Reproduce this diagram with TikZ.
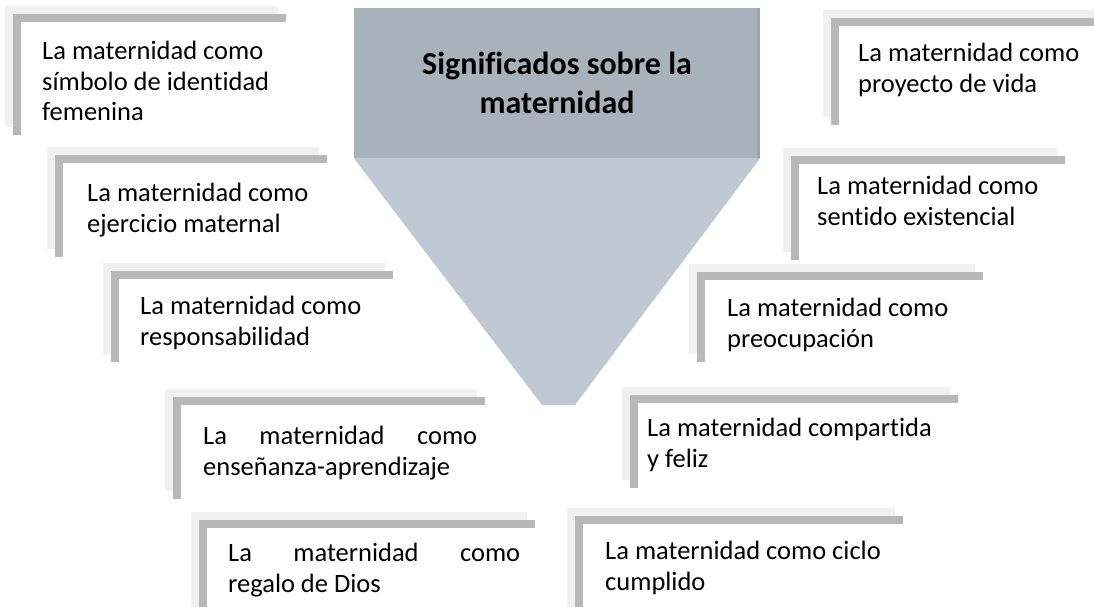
\documentclass[tikz,border=0pt]{standalone}
\usepackage{fontspec}
\setmainfont[Ligatures=NoCommon]{Carlito}
\usetikzlibrary{positioning}

\definecolor{grisclaro}{HTML}{F0F0F0}
\definecolor{grisoscuro}{HTML}{B8B8B8}
\definecolor{embudoalto}{HTML}{A9B1BB}
\definecolor{embudoborde}{HTML}{9CA4AF}
\definecolor{embudobajo}{HTML}{C0C8D3}

% marco con sombra: esquina superior izquierda y esquina inferior derecha del borde oscuro
\newcommand{\marco}[4]{%
  \fill[grisclaro] (#1-8,#2-8) rectangle (#3-8,#4-8);
  \fill[grisoscuro] (#1,#2) rectangle (#3,#4);
  \fill[white] (#1+8,#2+8) rectangle (#3,#4);
}

\begin{document}
\begin{tikzpicture}[x=1pt, y=-1pt,
    etiqueta/.style={anchor=north west, inner sep=0, align=left,
      font=\fontsize{26.5}{30.5}\selectfont},
    justificada/.style={etiqueta, align=justify}]
    \useasboundingbox (0,0) rectangle (1094,606);
    \clip (0,0) rectangle (1094,606);

    % embudo central
    \node [fill=embudoalto, minimum width=406pt, minimum height=150pt, inner sep=0,
      align=center, font=\fontsize{32}{39}\selectfont\bfseries] (titulo) at (557,83)
      {Significados sobre la\\maternidad};
    \draw [embudoborde, line width=3pt] ([xshift=-1.5pt]titulo.north east) -- ([xshift=-1.5pt]titulo.south east);
    \coordinate (punta_izq) at (542,405);
    \coordinate (punta_der) at (575,405);
    \fill [embudobajo] (titulo.south west) -- (titulo.south east) -- (punta_der) -- (punta_izq) -- cycle;

    % marcos de la izquierda
    \marco{13}{14}{286}{135}
    \marco{55}{155}{327}{257}
    \marco{111}{271}{393}{362}
    \marco{173}{397}{485}{499}
    \marco{199}{520}{535}{620}

    % marcos de la derecha
    \marco{831}{18}{1110}{125}
    \marco{791}{156}{1065}{260}
    \marco{697}{272}{983}{362}
    \marco{630}{395}{958}{488}
    \marco{575}{516}{903}{620}

    \node [etiqueta] (simbolo) at (42,41) {La maternidad como\\símbolo de identidad\\femenina};
    \node [etiqueta] (ejercicio) at (87,183) {La maternidad como\\ejercicio maternal};
    \node [etiqueta] (responsabilidad) at (140,296) {La maternidad como\\responsabilidad};
    \node [justificada, text width=274pt] (ensenanza) at (203,426) {La maternidad como\linebreak enseñanza-aprendizaje};
    \node [justificada, text width=292pt] (regalo) at (228,543) {La maternidad como\linebreak regalo de Dios};

    \node [etiqueta] (proyecto) at (858,43) {La maternidad como\\proyecto de vida};
    \node [etiqueta] (sentido) at (817,176) {La maternidad como\\sentido existencial};
    \node [etiqueta] (preocupacion) at (727,298) {La maternidad como\\preocupación};
    \node [etiqueta] (compartida) at (647,418) {La maternidad compartida\\y feliz};
    \node [etiqueta] (ciclo) at (605,541) {La maternidad como ciclo\\cumplido};
\end{tikzpicture}
\end{document}
